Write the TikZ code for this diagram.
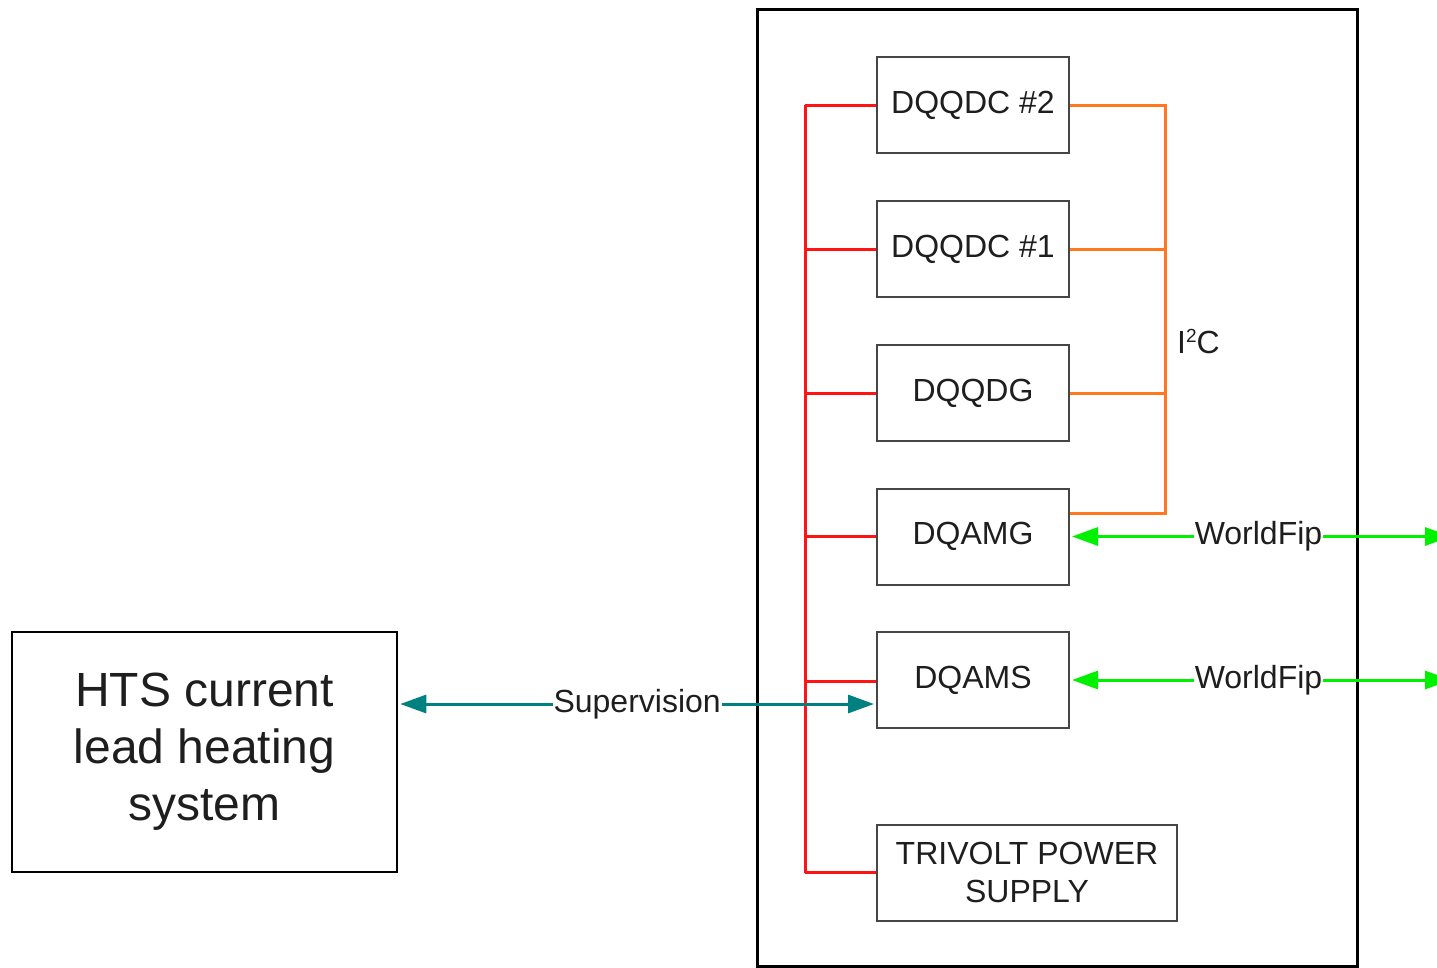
\documentclass[tikz,border=0pt]{standalone}
\usepackage{fontspec}
\setmainfont{Liberation Sans}
\usetikzlibrary{arrows.meta}
\definecolor{busred}{RGB}{255,20,20}
\definecolor{i2corange}{RGB}{255,120,30}
\definecolor{wfgreen}{RGB}{0,240,0}
\definecolor{supteal}{RGB}{0,128,128}
\definecolor{boxgray}{RGB}{70,70,70}
\definecolor{txtgray}{RGB}{30,30,30}
\begin{document}
\begin{tikzpicture}[x=1pt,y=-1pt,
  lbl/.style={font=\fontsize{32}{37}\selectfont,text=txtgray},
  modbox/.style={draw=boxgray,line width=2pt,minimum width=192pt,minimum height=96pt,inner sep=0pt,lbl},
  redline/.style={draw=busred,line width=3pt},
  orline/.style={draw=i2corange,line width=3pt},
  bitip/.style={{Triangle[length=26pt,width=18pt]}-{Triangle[length=26pt,width=18pt]}},
  wfline/.style={draw=wfgreen,line width=3pt,bitip},
  supline/.style={draw=supteal,line width=3pt,bitip},
  onlbl/.style={lbl,fill=white,inner sep=1pt}
]
\useasboundingbox (0,0) rectangle (1437,967);

% outer panel
\node[draw=black,line width=3pt,minimum width=600pt,minimum height=957pt,inner sep=0pt] (panel) at (1057,487.5) {};

% modules
\node[modbox] (q2) at (973,105) {DQQDC \#2};
\node[modbox] (q1) at (973,249) {DQQDC \#1};
\node[modbox] (qg) at (973,393) {DQQDG};
\node[modbox] (amg) at (973,536.5) {DQAMG};
\node[modbox] (ams) at (973,680) {DQAMS};
\node[modbox,minimum width=300pt,align=center,font=\fontsize{32}{38}\selectfont] (tv) at (1027,872.5) {TRIVOLT POWER\\SUPPLY};

% HTS box
\node[draw=black,line width=2.5pt,minimum width=385pt,minimum height=240pt,align=center,text=txtgray,
      font=\fontsize{48}{57}\selectfont] (hts) at (204.5,752) {HTS current\\lead heating\\system};

% red power bus
\coordinate (rtop) at (805,105);
\coordinate (rbot) at (805,873);
\draw[redline] (rtop) -- (rbot);
\draw[redline] (q2.west) -- (q2.west -| rtop);
\draw[redline] (q1.west) -- (q1.west -| rtop);
\draw[redline] (qg.west) -- (qg.west -| rtop);
\draw[redline] (amg.west) -- (amg.west -| rtop);
\draw[redline] ([yshift=-1pt]ams.west) -- ([yshift=-1pt]ams.west -| rtop);
\draw[redline] (tv.west) -- (tv.west -| rtop);

% orange I2C bus
\coordinate (otop) at (1165,105);
\coordinate (obot) at ([yshift=23.5pt]amg.east -| otop);
\draw[orline] (q2.east) -- (otop) -- (obot) -- ([yshift=23.5pt]amg.east);
\draw[orline] (q1.east) -- (q1.east -| otop);
\draw[orline] (qg.east) -- (qg.east -| otop);
\node[lbl,anchor=west,inner sep=0pt] (i2c) at (1177,342) {I\raisebox{11pt}{\fontsize{19}{20}\selectfont 2}C};

% WorldFip links
\coordinate (wfa) at (1451,536.5);
\coordinate (wfb) at (1451,680);
\draw[wfline] (wfa) -- node[onlbl,pos=0.5,xshift=-3pt] (wfal) {WorldFip} ([xshift=2pt]amg.east);
\draw[wfline] (wfb) -- node[onlbl,pos=0.5,xshift=-3pt] (wfbl) {WorldFip} ([xshift=2pt]ams.east);

% Supervision link
\draw[supline] ([xshift=2pt]hts.east |- 0,704) -- node[onlbl,pos=0.5] (supl) {Supervision} ([xshift=-2pt]ams.west |- 0,704);
\end{tikzpicture}
\end{document}
